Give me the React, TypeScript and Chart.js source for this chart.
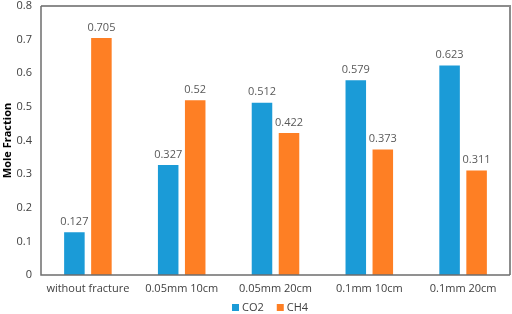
import React, { useEffect, useRef } from "react";
import { Chart, registerables } from "chart.js";

Chart.register(...registerables);

const categories = ["without fracture", "0.05mm 10cm", "0.05mm 20cm", "0.1mm 10cm", "0.1mm 20cm"];
const co2Values = [0.127, 0.327, 0.512, 0.579, 0.623];
const ch4Values = [0.705, 0.52, 0.422, 0.373, 0.311];
const co2Labels = ["0.127", "0.327", "0.512", "0.579", "0.623"];
const ch4Labels = ["0.705", "0.52", "0.422", "0.373", "0.311"];
const seriesNames = ["CO2", "CH4"];
const yTicks = [0, 0.1, 0.2, 0.3, 0.4, 0.5, 0.6, 0.7, 0.8];

const BLUE = "#1b9bd7";
const ORANGE = "#fe7f24";
const FONT = "'Open Sans', 'Noto Sans', sans-serif";

const valueLabelPlugin = {
  id: "valueLabels",
  afterDatasetsDraw(chart: any) {
    const ctx = chart.ctx;
    const texts = [co2Labels, ch4Labels];
    ctx.save();
    ctx.font = `11px ${FONT}`;
    ctx.fillStyle = "#595959";
    ctx.textAlign = "center";
    ctx.textBaseline = "bottom";
    chart.data.datasets.forEach((_: any, di: number) => {
      const meta = chart.getDatasetMeta(di);
      meta.data.forEach((bar: any, i: number) => {
        ctx.fillText(texts[di][i], bar.x, bar.y - 5);
      });
    });
    ctx.restore();
  },
};

const framePlugin = {
  id: "frame",
  afterDatasetsDraw(chart: any) {
    const { ctx, chartArea } = chart;
    const { left, right, top, bottom } = chartArea;
    ctx.save();
    ctx.strokeStyle = "#8c8c8c";
    ctx.lineWidth = 2;
    ctx.beginPath();
    ctx.moveTo(left, top);
    ctx.lineTo(right, top);
    ctx.lineTo(right, bottom);
    ctx.stroke();
    ctx.strokeStyle = "#6e6e6e";
    ctx.lineWidth = 1.5;
    ctx.beginPath();
    ctx.moveTo(left, top);
    ctx.lineTo(left, bottom);
    ctx.lineTo(right, bottom);
    ctx.stroke();
    ctx.restore();
  },
};

const legendPlugin = {
  id: "customLegend",
  afterDraw(chart: any) {
    const ctx = chart.ctx;
    ctx.save();
    ctx.font = `11px ${FONT}`;
    ctx.textBaseline = "middle";
    ctx.textAlign = "left";
    const y = 308;
    let x = 232;
    chart.data.datasets.forEach((ds: any) => {
      ctx.fillStyle = ds.backgroundColor;
      ctx.fillRect(x, y - 4, 7, 7);
      ctx.fillStyle = "#404040";
      ctx.fillText(ds.label, x + 10, y);
      x += 10 + ctx.measureText(ds.label).width + 13;
    });
    ctx.restore();
  },
};

export default function App() {
  const ref = useRef<HTMLCanvasElement | null>(null);
  useEffect(() => {
    if (!ref.current) return;
    const chart = new Chart(ref.current, {
      type: "bar",
      data: {
        labels: categories,
        datasets: [
          { label: seriesNames[0], data: co2Values, backgroundColor: BLUE },
          { label: seriesNames[1], data: ch4Values, backgroundColor: ORANGE },
        ],
      },
      options: {
        animation: false,
        responsive: true,
        maintainAspectRatio: false,
        layout: { padding: { left: 0, right: 2, top: 6, bottom: 0 } },
        datasets: { bar: { categoryPercentage: 0.576, barPercentage: 0.76 } },
        plugins: { legend: { display: false }, tooltip: { enabled: false } },
        scales: {
          x: {
            grid: { display: false, drawTicks: false },
            border: { display: false },
            ticks: { color: "#404040", font: { family: FONT, size: 11 }, padding: 7, maxRotation: 0, autoSkip: false },
            afterFit: (s: any) => { s.height = 39; s.paddingLeft = 0; s.paddingRight = 0; },
          },
          y: {
            min: 0,
            max: 0.8,
            grid: { display: false, drawTicks: false },
            border: { display: false },
            afterBuildTicks: (s: any) => { s.ticks = yTicks.map((v) => ({ value: v })); },
            ticks: {
              color: "#404040",
              font: { family: FONT, size: 11 },
              padding: 9,
              callback: (v: any) => String(Math.round(Number(v) * 10) / 10),
            },
            title: {
              display: true,
              text: "Mole Fraction",
              color: "#000",
              font: { family: FONT, size: 11, weight: "bold" },
              padding: { top: 1, bottom: 0 },
            },
            afterFit: (s: any) => { s.width = 41; s.paddingTop = 0; s.paddingBottom = 0; },
          },
        },
      },
      plugins: [valueLabelPlugin, framePlugin, legendPlugin],
    });
    return () => chart.destroy();
  }, []);
  return (
    <div style={{ position: "fixed", left: 0, top: 0, width: 512, height: 314, background: "#fff" }}>
      <canvas ref={ref} />
    </div>
  );
}
